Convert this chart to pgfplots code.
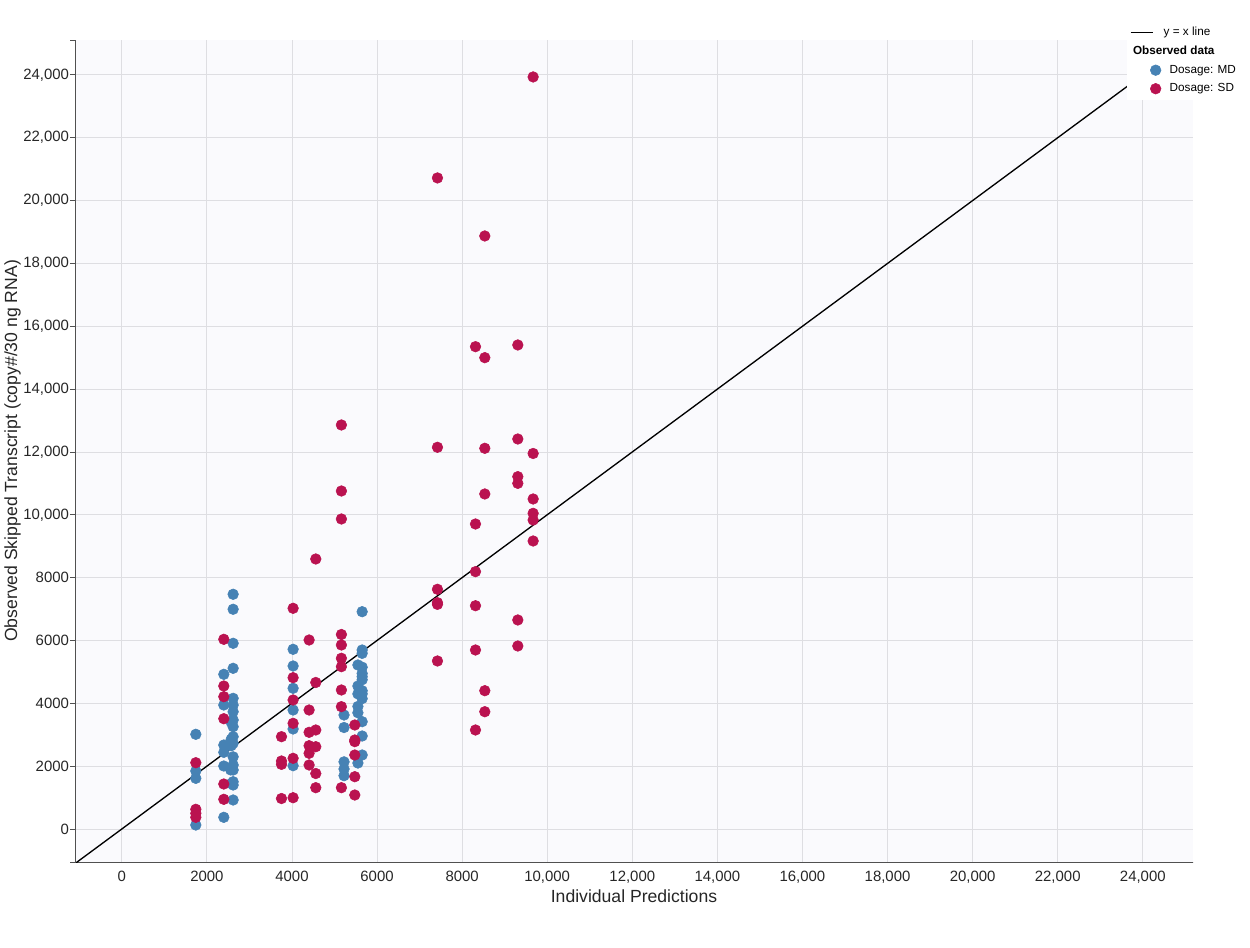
\documentclass[border=0pt]{standalone}
\usepackage{pgfplots}
\pgfplotsset{compat=1.18}
\usepackage{fontspec}
\setmainfont{Liberation Sans}
\definecolor{mdblue}{RGB}{70,130,180}
\definecolor{sdred}{RGB}{186,18,80}
\definecolor{bgc}{RGB}{250,250,253}
\definecolor{gridc}{RGB}{222,222,226}
\definecolor{axc}{RGB}{80,80,80}
\begin{document}
\begin{tikzpicture}[x=1pt,y=1pt]
\path[use as bounding box] (0,0) rectangle (937.5,710.25);
\begin{axis}[
  at={(56.25pt,63.75pt)}, anchor=south west,
  scale only axis, width=838.5pt, height=616.5pt,
  xmin=-1100, xmax=25180, ymin=-1050, ymax=25110,
  scaled ticks=false,
  axis background/.style={fill=bgc},
  axis x line*=bottom, axis y line*=left,
  axis line style={axc, line width=0.6pt},
  xtick={0,2000,...,24000}, ytick={0,2000,...,24000},
  xticklabels={0,2000,4000,6000,8000,{10,000},{12,000},{14,000},{16,000},{18,000},{20,000},{22,000},{24,000}},
  yticklabels={0,2000,4000,6000,8000,{10,000},{12,000},{14,000},{16,000},{18,000},{20,000},{22,000},{24,000}},
  extra y ticks={-1050,25110}, extra y tick labels={},
  extra y tick style={grid=none},
  xmajorgrids, ymajorgrids,
  grid style={gridc, line width=0.6pt},
  x tick style={draw=none},
  y tick style={axc, line width=0.6pt},
  tick align=outside, major tick length=3.5pt,
  ticklabel style={font=\fontsize{11.2}{13}\selectfont, text=black!85},
  /pgf/number format/assume math mode=true,
  xticklabel shift=0pt, yticklabel shift=-2.5pt,
  xlabel={Individual Predictions},
  ylabel={Observed Skipped Transcript (copy\#/30 ng RNA)},
  label style={font=\fontsize{13.2}{15}\selectfont, text=black!85},
  xlabel shift=-2.5pt, ylabel shift=-7pt,
  legend cell align=left,
  legend style={at={(0.941,1.023)}, anchor=north west, draw=none, fill=white,
    font=\fontsize{8.8}{10}\selectfont, row sep=2.3pt, inner xsep=2pt, inner ysep=2.5pt},
  clip=true,
]
\addplot[black, line width=1pt] coordinates {(-1100,-1100) (25200,25200)};
\addlegendentry{y = x line}
\addlegendimage{empty legend}
\addlegendentry{\hspace{-23pt}\textbf{Observed data}}
\addplot[only marks, mark=*, mark size=4pt, mdblue, mark options={draw=mdblue, fill=mdblue},
  legend image code/.code={\draw[mark size=4pt] plot coordinates {(0.66cm,0cm)};}]
coordinates {
(1740,3014) (1740,1846) (1740,1613) (1740,127)
(2398,4923) (2398,3946) (2398,2673) (2398,2440) (2398,2005) (2398,372)
(2617,7470) (2617,6993) (2617,5910) (2617,5114) (2617,4159) (2617,3946) (2617,3734)
(2617,3469) (2617,3256) (2617,2938) (2617,2727) (2617,2297) (2617,2037) (2617,1878)
(2617,1505) (2617,1400) (2617,923)
(2570,3400) (2570,2850) (2570,2650) (2560,1880) (2580,1450)
(4027,5719) (4027,5188) (4027,4478) (4027,3787) (4027,3183) (4027,2015)
(5224,3628) (5224,3230) (5224,2137) (5224,1910) (5224,1697)
(5550,5220) (5550,4550) (5550,4300) (5550,3900) (5550,3700) (5550,2100)
(5650,6916) (5650,5697) (5650,5590) (5650,5150) (5650,4950) (5650,4850) (5650,4750)
(5650,4400) (5650,4300) (5650,4150) (5650,3416) (5650,2960) (5650,2355)
};
\addlegendentry{\hspace{4.5pt}Dosage: MD}
\addplot[only marks, mark=*, mark size=4pt, sdred, mark options={draw=sdred, fill=sdred},
  legend image code/.code={\draw[mark size=4pt] plot coordinates {(0.66cm,0cm)};}]
coordinates {
(1740,2110) (1740,627) (1740,500) (1740,372)
(2398,6037) (2398,4551) (2398,4211) (2398,3510) (2398,1432) (2398,945)
(3754,2938) (3754,2164) (3754,2058) (3754,970)
(4027,7024) (4027,4816) (4027,4106) (4027,3363) (4027,2250) (4027,996)
(4403,6015) (4403,3787) (4403,3077) (4403,2651) (4403,2409) (4403,2037)
(4560,8593) (4560,4663) (4560,3151) (4560,2619) (4560,1766) (4560,1315)
(5162,12858) (5162,10757) (5162,9866) (5162,6190) (5162,5856) (5162,5433) (5162,5166)
(5162,4424) (5162,3893) (5162,1315)
(5477,3310) (5477,2833) (5477,2780) (5477,2355) (5477,1665) (5477,1082)
(7420,20720) (7420,12148) (7420,7629) (7420,7202) (7420,7150) (7420,5347)
(8314,15350) (8314,9707) (8314,8190) (8314,7106) (8314,5697) (8314,3151)
(8533,18873) (8533,15000) (8533,12116) (8533,10662) (8533,4402) (8533,3733)
(9309,15404) (9309,12412) (9309,11213) (9309,11001) (9309,6652) (9309,5824)
(9669,23934) (9669,11951) (9669,10503) (9669,10046) (9669,9834) (9669,9166)
};
\addlegendentry{\hspace{4.5pt}Dosage: SD}
\draw[axc, line width=0.6pt] (rel axis cs:0,0) -- ++(0pt,-4.5pt);
\draw[axc, line width=0.6pt] (rel axis cs:1,0) -- ++(0pt,-4.5pt);
\end{axis}
\end{tikzpicture}
\end{document}
